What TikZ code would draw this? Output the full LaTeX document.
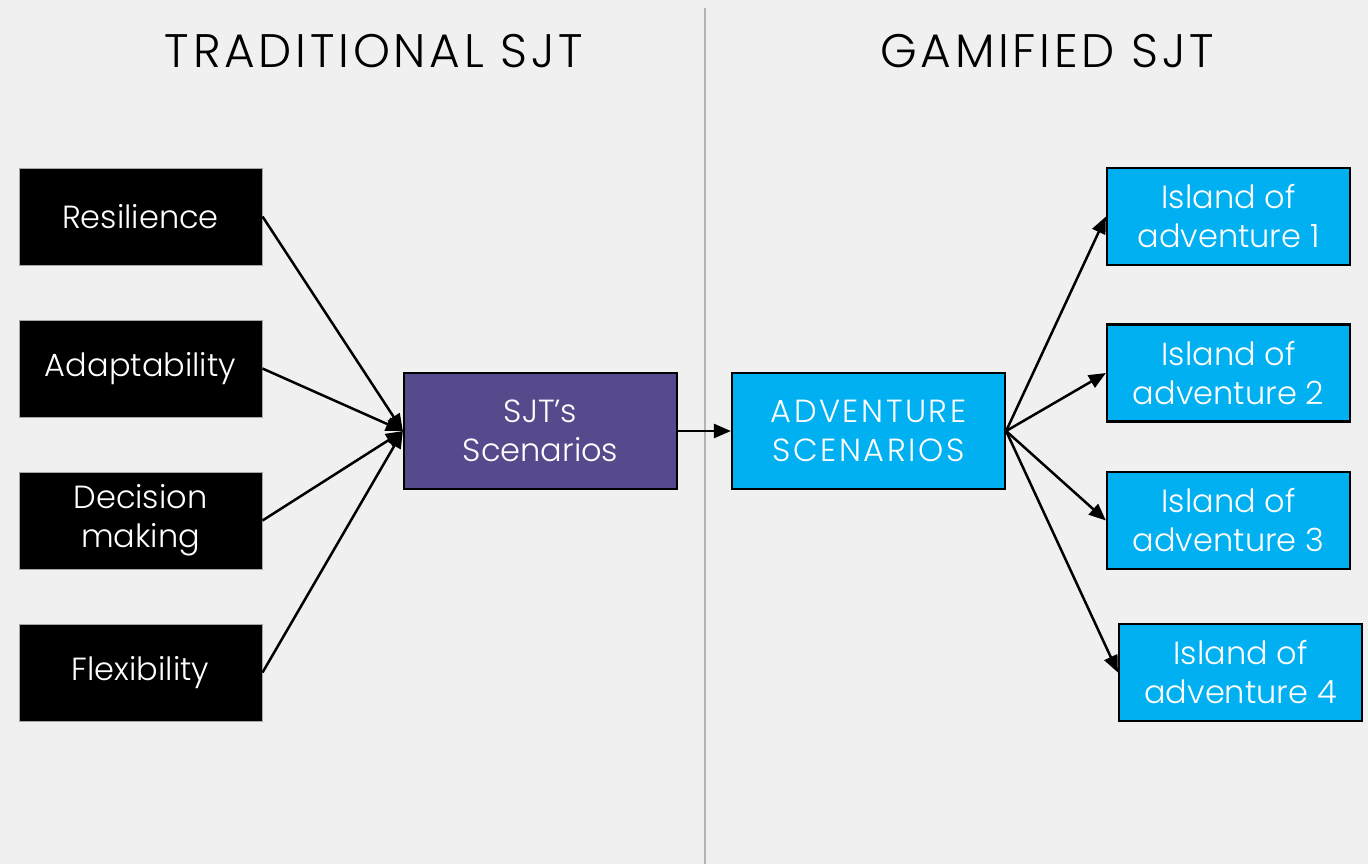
\documentclass[tikz,border=0pt]{standalone}
\usepackage{fontspec}
\setmainfont{Poppins}[UprightFont=* Light]
\newfontfamily\spacedfont{Poppins}[UprightFont=* Light, LetterSpace=8]
\usetikzlibrary{arrows.meta}
\definecolor{bg}{HTML}{F0F0F0}
\definecolor{sjtpurple}{HTML}{574A8C}
\definecolor{gamecyan}{HTML}{00B0F0}
\definecolor{divider}{HTML}{B4B4B4}
\tikzset{
  boxtext/.style={font=\fontsize{16}{19.5}\selectfont},
  skill/.style={boxtext, fill=black, draw=gray!70, line width=0.5pt, text=white,
    minimum width=121.5pt, minimum height=48.5pt, align=center, inner sep=0pt},
  hub/.style={boxtext, draw=black, line width=1.1pt, text=white, align=center,
    minimum width=136.5pt, minimum height=58pt, inner sep=0pt},
  island/.style={boxtext, fill=gamecyan, draw=black, line width=1.1pt, text=white,
    minimum width=121.5pt, minimum height=48.5pt, align=center, inner sep=0pt},
  heading/.style={font=\spacedfont\fontsize{23.5}{28}\selectfont},
  link/.style={draw=black, line width=1.25pt,
    -{Triangle[length=8.5pt,width=7pt]}},
}
\begin{document}
\begin{tikzpicture}[x=0.5pt, y=-0.5pt]
  \fill[bg] (0,0) rectangle (1368,864);
  \useasboundingbox (0,0) rectangle (1368,864);

  % column divider
  \coordinate (divtop) at (705,8);
  \coordinate (divbot) at (705,864);
  \draw[divider, line width=0.6pt] (divtop) -- (divbot);

  % headings
  \node[heading] (trad) at (374,51) {TRADITIONAL SJT};
  \node[heading] (gami) at (1047,51) {GAMIFIED SJT};

  % competencies
  \node[skill] (res) at (140.5,216.5) {Resilience};
  \node[skill] (ada) at (140.5,368.5) {Adaptability};
  \node[skill] (dec) at (140.5,520.5) {Decision\\making};
  \node[skill] (fle) at (140.5,672.5) {Flexibility};

  % scenario hubs
  \node[hub, fill=sjtpurple] (sjt) at (540.5,431) {SJT’s\\Scenarios};
  \node[hub, fill=gamecyan, font={\spacedfont\fontsize{16}{19.5}\selectfont}] (adv) at (868.5,431) {ADVENTURE\\SCENARIOS};

  % islands
  \node[island] (i1) at (1228.5,216.5) {Island of\\adventure 1};
  \node[island] (i2) at (1228.5,373) {Island of\\adventure 2};
  \node[island] (i3) at (1228.5,520.5) {Island of\\adventure 3};
  \node[island] (i4) at (1240.5,672.5) {Island of\\adventure 4};

  % connectors
  \foreach \s in {res,ada,dec,fle}
    \draw[link] (\s.east) -- (sjt.west);
  \draw[link] (sjt.east) -- (adv.west);
  \foreach \t in {i1,i2,i3,i4}
    \draw[link] (adv.east) -- (\t.west);
\end{tikzpicture}
\end{document}
